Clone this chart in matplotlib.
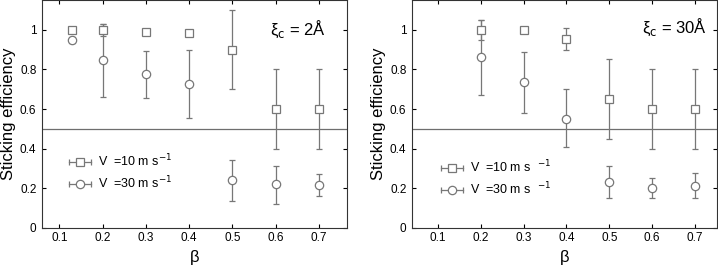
import matplotlib
matplotlib.use("Agg")
import matplotlib.pyplot as plt
from matplotlib.lines import Line2D
from matplotlib.legend_handler import HandlerLine2D, HandlerTuple
import numpy as np

plt.rcParams['font.family'] = ['Liberation Sans', 'DejaVu Sans']

# Left panel (xi_c = 2 A)
beta_L = [0.13, 0.2, 0.3, 0.4, 0.5, 0.6, 0.7]
sq_L = [1.0, 1.0, 0.99, 0.985, 0.90, 0.60, 0.60]
sq_L_lo = [0.995, 0.97, 0.975, 0.97, 0.70, 0.40, 0.40]
sq_L_hi = [1.005, 1.03, 1.005, 1.0, 1.10, 0.80, 0.80]
ci_L = [0.95, 0.845, 0.775, 0.725, 0.24, 0.22, 0.215]
ci_L_lo = [0.935, 0.66, 0.655, 0.555, 0.135, 0.12, 0.16]
ci_L_hi = [0.965, 1.03, 0.895, 0.90, 0.345, 0.315, 0.27]

# Right panel (xi_c = 30 A)
beta_R = [0.2, 0.3, 0.4, 0.5, 0.6, 0.7]
sq_R = [1.0, 1.0, 0.955, 0.65, 0.60, 0.60]
sq_R_lo = [0.95, 0.995, 0.90, 0.45, 0.40, 0.40]
sq_R_hi = [1.05, 1.005, 1.01, 0.85, 0.80, 0.80]
ci_R = [0.86, 0.735, 0.55, 0.23, 0.20, 0.21]
ci_R_lo = [0.67, 0.58, 0.41, 0.15, 0.15, 0.15]
ci_R_hi = [1.05, 0.89, 0.70, 0.315, 0.25, 0.275]

xticks = [0.1, 0.2, 0.3, 0.4, 0.5, 0.6, 0.7]
yticks = [0, 0.2, 0.4, 0.6, 0.8, 1.0]
ytlabels = ['0', '0.2', '0.4', '0.6', '0.8', '1']
labels_L = ['V  =10 m s$^{-1}$', 'V  =30 m s$^{-1}$']
labels_R = ['V  =10 m s  $^{-1}$', 'V  =30 m s  $^{-1}$']

W, H = 718, 266
fig = plt.figure(figsize=(W/100, H/100), dpi=100)

gray = '#777777'

def make_handle(marker, ms):
    bar = Line2D([], [], color=gray, lw=0.9, marker='|', ms=5, mew=0.9)
    mk = Line2D([], [], ls='none', marker=marker, ms=ms, mfc='white', mec=gray, mew=0.9)
    return (bar, mk), {bar: HandlerLine2D(numpoints=2, marker_pad=0),
                       mk: HandlerLine2D(numpoints=1)}

def panel(rect, beta, sq, sqlo, sqhi, ci, cilo, cihi, xlim, label, tx, ty, legpos, labels):
    ax = fig.add_axes(rect)
    sq = np.array(sq); ci = np.array(ci)
    ax.axhline(0.5, color='#6e6e6e', lw=0.9, zorder=1)
    ax.errorbar(beta, sq, yerr=[sq - np.array(sqlo), np.array(sqhi) - sq],
                fmt='s', ms=5.5, mfc='white', mec=gray, mew=0.9, ecolor=gray,
                elinewidth=0.9, capsize=2.5, capthick=0.9, zorder=3)
    ax.errorbar(beta, ci, yerr=[ci - np.array(cilo), np.array(cihi) - ci],
                fmt='o', ms=6, mfc='white', mec=gray, mew=0.9, ecolor=gray,
                elinewidth=0.9, capsize=2.5, capthick=0.9, zorder=3)
    ax.set_xlim(*xlim)
    ax.set_ylim(0, 1.15)
    ax.set_xticks(xticks)
    ax.set_xticklabels([f'{v:.1f}' for v in xticks], fontsize=8.5)
    ax.set_yticks(yticks)
    ax.set_yticklabels(ytlabels, fontsize=8.5)
    ax.tick_params(direction='in', top=True, right=True, length=3, width=0.8)
    ax.tick_params(axis='x', pad=3)
    ax.tick_params(axis='y', pad=4)
    for s in ax.spines.values():
        s.set_linewidth(0.8)
        s.set_color('#333333')
    ax.set_xlabel('β', fontsize=12, labelpad=4)
    ax.set_ylabel('Sticking efficiency', fontsize=12, labelpad=3)
    ax.text(tx, ty, label, transform=ax.transAxes, ha='right', va='baseline', fontsize=12)
    h1, m1 = make_handle('s', 5.5)
    h2, m2 = make_handle('o', 6)
    hm = {}
    hm.update(m1); hm.update(m2)
    hm[tuple] = HandlerTuple(ndivide=1)
    ax.legend([h1, h2], labels, handler_map=hm, loc='upper left',
              bbox_to_anchor=legpos, frameon=False, fontsize=9,
              borderpad=0, borderaxespad=0,
              handlelength=1.75, handletextpad=0.55, labelspacing=0.45)
    return ax

panel([42/W, 38/H, 305/W, 228/H], beta_L, sq_L, sq_L_lo, sq_L_hi, ci_L, ci_L_lo, ci_L_hi,
      (0.06, 0.765), 'ξ$_\\mathrm{c}$ = 2Å', 0.93, 0.845, (0.089, 0.33), labels_L)
panel([412/W, 38/H, 305/W, 228/H], beta_R, sq_R, sq_R_lo, sq_R_hi, ci_R, ci_R_lo, ci_R_hi,
      (0.04, 0.751), 'ξ$_\\mathrm{c}$ = 30Å', 0.967, 0.855, (0.095, 0.305), labels_R)

fig.savefig('out.png', dpi=100)
